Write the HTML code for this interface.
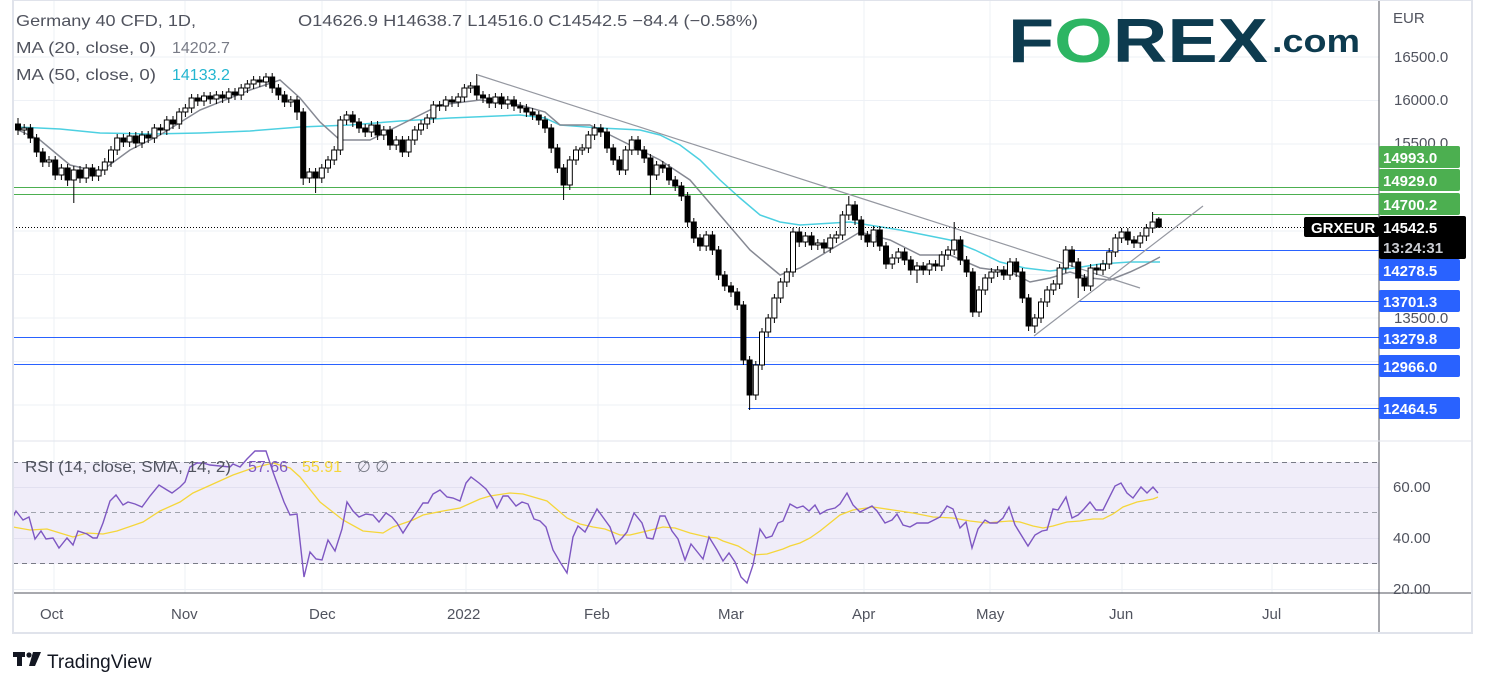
<!DOCTYPE html>
<html><head><meta charset="utf-8">
<style>
body{margin:0;background:#fff;}
svg text{font-family:"Liberation Sans","DejaVu Sans",sans-serif;}
</style></head>
<body>
<svg width="1487" height="687" viewBox="0 0 1487 687" xmlns="http://www.w3.org/2000/svg" shape-rendering="auto">
<rect width="1487" height="687" fill="#fff"/>
<g stroke="#eef1f6" stroke-width="1">
<line x1="54" y1="0" x2="54" y2="593"/><line x1="185" y1="0" x2="185" y2="593"/><line x1="322" y1="0" x2="322" y2="593"/><line x1="466" y1="0" x2="466" y2="593"/><line x1="598" y1="0" x2="598" y2="593"/><line x1="731" y1="0" x2="731" y2="593"/><line x1="864" y1="0" x2="864" y2="593"/><line x1="990" y1="0" x2="990" y2="593"/><line x1="1122" y1="0" x2="1122" y2="593"/><line x1="1272" y1="0" x2="1272" y2="593"/>
<line x1="13" y1="57" x2="1379" y2="57"/><line x1="13" y1="100.5" x2="1379" y2="100.5"/><line x1="13" y1="144" x2="1379" y2="144"/><line x1="13" y1="231" x2="1379" y2="231"/><line x1="13" y1="274.5" x2="1379" y2="274.5"/><line x1="13" y1="318" x2="1379" y2="318"/><line x1="13" y1="361.5" x2="1379" y2="361.5"/><line x1="13" y1="405" x2="1379" y2="405"/>
</g>
<rect x="13" y="462" width="1366" height="102" fill="#f0edf9"/>
<g stroke-width="1">
<line x1="13" y1="487.5" x2="1379" y2="487.5" stroke="#e2e0f0"/><line x1="13" y1="538.5" x2="1379" y2="538.5" stroke="#e2e0f0"/><line x1="13" y1="589.5" x2="1379" y2="589.5" stroke="#eef1f6"/>
<line x1="13" y1="462.5" x2="1379" y2="462.5" stroke="#787b86" stroke-dasharray="5,4"/>
<line x1="13" y1="512.5" x2="1379" y2="512.5" stroke="#a0a3ad" stroke-dasharray="5,4"/>
<line x1="13" y1="563.5" x2="1379" y2="563.5" stroke="#787b86" stroke-dasharray="5,4"/>
</g>
<!-- MAs -->
<polyline fill="none" stroke="#4dd0e1" stroke-width="1.5" points="18,127 60,129 100,133 150,134 200,133 250,131 300,127 350,125 400,121 450,118 520,115 545,118 560,125 600,128 640,130 660,135 680,145 700,160 720,180 740,198 760,215 780,222 800,225 850,222 900,230 950,240 975,250 1000,262 1025,268 1050,271 1075,268 1100,264 1130,262 1160,262"/>
<polyline fill="none" stroke="#868993" stroke-width="1.5" points="18,130 40,140 70,165 100,172 130,150 160,135 200,110 250,90 280,80 300,98 320,122 340,140 370,140 400,125 440,105 480,100 520,105 545,112 560,125 590,125 620,140 660,160 690,180 720,215 750,250 780,275 800,268 830,250 860,232 890,240 920,255 950,255 980,268 1010,272 1030,282 1050,278 1070,272 1090,278 1110,280 1130,272 1145,265 1160,257"/>
<!-- levels -->
<g stroke-width="1">
<line x1="13" y1="187.5" x2="1379" y2="187.5" stroke="#4caf50"/>
<line x1="13" y1="194.5" x2="1379" y2="194.5" stroke="#4caf50"/>
<line x1="1153" y1="214.5" x2="1379" y2="214.5" stroke="#4caf50"/>
<line x1="13" y1="227.5" x2="1304" y2="227.5" stroke="#000" stroke-dasharray="1,2"/>
<line x1="1065" y1="250.5" x2="1379" y2="250.5" stroke="#2962ff"/>
<line x1="1078" y1="301.5" x2="1379" y2="301.5" stroke="#2962ff"/>
<line x1="13" y1="337.5" x2="1379" y2="337.5" stroke="#2962ff"/>
<line x1="13" y1="364.5" x2="1379" y2="364.5" stroke="#2962ff"/>
<line x1="748" y1="408.5" x2="1379" y2="408.5" stroke="#2962ff"/>
<line x1="478" y1="75" x2="1140" y2="288" stroke="#9598a1" stroke-width="1.2"/>
<line x1="1034" y1="336" x2="1203" y2="206" stroke="#9598a1" stroke-width="1.2"/>
</g>
<!-- wicks -->
<path stroke="#000" stroke-width="1" fill="none" d="M18 118V135M24.2 124V135M30.4 124V143M36.6 134V157M42.8 148V167M49 156V167M55.2 156V180M61.4 164V180M67.6 164V186M73.8 166V203M80 166V183M86.2 164V183M92.4 164V181M98.6 166V181M104.8 158V175M111 146V167M117.2 134V155M123.4 134V147M129.6 132V147M135.8 132V148M142 131V148M148.2 131V143M154.4 124V143M160.6 124V135M166.8 116V135M173 116V129M179.2 108V129M185.4 104V117M191.6 94V113M197.8 94V106M204 92V106M210.2 92V104M216.4 91V104M222.6 91V103M228.8 88V103M235 88V100M241.2 84V100M247.4 80V93M253.6 76V89M259.8 76V87M266 73V87M272.2 73V93M278.4 84V100M284.6 91V107M290.8 96V107M297 96V120M303.2 108V185M309.4 168V183M315.6 168V193M321.8 164V183M328 156V173M334.2 146V165M340.4 116V155M346.6 111V125M352.8 111V127M359 118V133M365.2 124V137M371.4 121V137M377.6 121V140M383.8 126V140M390 126V150M396.2 136V150M402.4 136V157M408.6 136V157M414.8 126V145M421 120V135M427.2 114V129M433.4 101V123M439.6 101V111M445.8 96V111M452 96V107M458.2 93V107M464.4 84V102M470.6 82V93M476.8 74V100M483 91V103M489.2 94V108M495.4 93V108M501.6 93V109M507.8 96V109M514 96V111M520.2 102V113M526.4 104V117M532.6 108V120M538.8 111V125M545 116V133M551.2 124V153M557.4 144V173M563.6 164V200M569.8 156V190M576 146V165M582.2 144V155M588.4 131V153M594.6 124V140M600.8 124V137M607 128V153M613.2 144V165M619.4 156V175M625.6 146V175M631.8 136V155M638 136V155M644.2 146V163M650.4 154V195M656.6 161V180M662.8 161V173M669 164V185M675.2 176V191M681.4 182V201M687.6 192V227M693.8 218V243M700 234V251M706.2 231V251M712.4 231V255M718.6 246V280M724.8 271V291M731 282V297M737.2 288V310M743.4 301V365M749.6 356V410M755.8 361V400M762 328V370M768.2 314V337M774.4 294V323M780.6 278V303M786.8 268V287M793 228V277M799.2 228V247M805.4 232V247M811.6 232V250M817.8 239V250M824 239V253M830.2 234V253M836.4 231V243M842.6 211V240M848.8 196V220M855 201V225M861.2 216V240M867.4 231V247M873.6 226V247M879.8 226V251M886 242V269M892.2 254V269M898.4 248V263M904.6 248V265M910.8 256V275M917 262V283M923.2 262V275M929.4 260V275M935.6 260V271M941.8 251V271M948 246V260M954.2 222V255M960.4 236V265M966.6 256V277M972.8 268V317M979 286V317M985.2 274V295M991.4 268V283M997.6 266V277M1003.8 266V280M1010 258V280M1016.2 258V277M1022.4 268V303M1028.6 294V331M1034.8 314V333M1041 298V323M1047.2 286V307M1053.4 280V295M1059.6 264V289M1065.8 246V273M1072 246V267M1078.2 258V298M1084.4 274V291M1090.6 264V291M1096.8 264V275M1103 260V275M1109.2 248V269M1115.4 234V257M1121.6 228V243M1127.8 228V245M1134 236V248M1140.2 232V248M1146.4 224V241M1152.6 212V233M1158.8 217V228"/>
<!-- down bodies -->
<path fill="#000" stroke="#000" stroke-width="1" d="M15.5 124h5V130h-5zM27.9 128h5V138h-5zM34.1 138h5V152h-5zM40.3 152h5V162h-5zM52.7 160h5V175h-5zM65.1 168h5V180h-5zM77.5 170h5V178h-5zM89.9 168h5V176h-5zM120.9 138h5V142h-5zM133.3 136h5V143h-5zM145.7 135h5V138h-5zM158.1 128h5V130h-5zM170.5 120h5V124h-5zM195.3 98h5V101h-5zM207.7 96h5V99h-5zM220.1 95h5V98h-5zM232.5 92h5V95h-5zM257.3 80h5V82h-5zM269.7 77h5V88h-5zM275.9 88h5V95h-5zM282.1 95h5V102h-5zM294.5 100h5V112h-5zM300.7 112h5V178h-5zM313.1 172h5V178h-5zM350.3 115h5V122h-5zM356.5 122h5V128h-5zM362.7 128h5V132h-5zM375.1 125h5V135h-5zM387.5 130h5V145h-5zM399.9 140h5V152h-5zM437.1 105h5V106h-5zM449.5 100h5V102h-5zM474.3 86h5V95h-5zM480.5 95h5V98h-5zM486.7 98h5V103h-5zM499.1 97h5V104h-5zM511.5 100h5V106h-5zM517.7 106h5V108h-5zM523.9 108h5V112h-5zM530.1 112h5V115h-5zM536.3 115h5V120h-5zM542.5 120h5V128h-5zM548.7 128h5V148h-5zM554.9 148h5V168h-5zM561.1 168h5V185h-5zM598.3 128h5V132h-5zM604.5 132h5V148h-5zM610.7 148h5V160h-5zM616.9 160h5V170h-5zM635.5 140h5V150h-5zM641.7 150h5V158h-5zM647.9 158h5V175h-5zM660.3 165h5V168h-5zM666.5 168h5V180h-5zM672.7 180h5V186h-5zM678.9 186h5V196h-5zM685.1 196h5V222h-5zM691.3 222h5V238h-5zM697.5 238h5V246h-5zM709.9 235h5V250h-5zM716.1 250h5V275h-5zM722.3 275h5V286h-5zM728.5 286h5V292h-5zM734.7 292h5V305h-5zM740.9 305h5V360h-5zM747.1 360h5V395h-5zM796.7 232h5V242h-5zM809.1 236h5V245h-5zM821.5 243h5V248h-5zM852.5 205h5V220h-5zM858.7 220h5V235h-5zM864.9 235h5V242h-5zM877.3 230h5V246h-5zM883.5 246h5V264h-5zM902.1 252h5V260h-5zM908.3 260h5V270h-5zM920.7 266h5V270h-5zM933.1 264h5V266h-5zM957.9 240h5V260h-5zM964.1 260h5V272h-5zM970.3 272h5V312h-5zM1001.3 270h5V275h-5zM1013.7 262h5V272h-5zM1019.9 272h5V298h-5zM1026.1 298h5V326h-5zM1069.5 250h5V262h-5zM1075.7 262h5V278h-5zM1081.9 278h5V286h-5zM1094.3 268h5V270h-5zM1125.3 232h5V240h-5zM1131.5 240h5V243h-5zM1156.3 219h5V227h-5z"/>
<!-- up bodies -->
<path fill="#fff" stroke="#000" stroke-width="1" d="M21.7 128h5V130h-5zM46.5 160h5V162h-5zM58.9 168h5V175h-5zM71.3 170h5V180h-5zM83.7 168h5V178h-5zM96.1 170h5V176h-5zM102.3 162h5V170h-5zM108.5 150h5V162h-5zM114.7 138h5V150h-5zM127.1 136h5V142h-5zM139.5 135h5V143h-5zM151.9 128h5V138h-5zM164.3 120h5V130h-5zM176.7 112h5V124h-5zM182.9 108h5V112h-5zM189.1 98h5V108h-5zM201.5 96h5V101h-5zM213.9 95h5V99h-5zM226.3 92h5V98h-5zM238.7 88h5V95h-5zM244.9 84h5V88h-5zM251.1 80h5V84h-5zM263.5 77h5V82h-5zM288.3 100h5V102h-5zM306.9 172h5V178h-5zM319.3 168h5V178h-5zM325.5 160h5V168h-5zM331.7 150h5V160h-5zM337.9 120h5V150h-5zM344.1 115h5V120h-5zM368.9 125h5V132h-5zM381.3 130h5V135h-5zM393.7 140h5V145h-5zM406.1 140h5V152h-5zM412.3 130h5V140h-5zM418.5 124h5V130h-5zM424.7 118h5V124h-5zM430.9 105h5V118h-5zM443.3 100h5V106h-5zM455.7 97h5V102h-5zM461.9 88h5V97h-5zM468.1 86h5V88h-5zM492.9 97h5V103h-5zM505.3 100h5V104h-5zM567.3 160h5V185h-5zM573.5 150h5V160h-5zM579.7 148h5V150h-5zM585.9 135h5V148h-5zM592.1 128h5V135h-5zM623.1 150h5V170h-5zM629.3 140h5V150h-5zM654.1 165h5V175h-5zM703.7 235h5V246h-5zM753.3 365h5V395h-5zM759.5 332h5V365h-5zM765.7 318h5V332h-5zM771.9 298h5V318h-5zM778.1 282h5V298h-5zM784.3 272h5V282h-5zM790.5 232h5V272h-5zM802.9 236h5V242h-5zM815.3 243h5V245h-5zM827.7 238h5V248h-5zM833.9 235h5V238h-5zM840.1 215h5V235h-5zM846.3 205h5V215h-5zM871.1 230h5V242h-5zM889.7 258h5V264h-5zM895.9 252h5V258h-5zM914.5 266h5V270h-5zM926.9 264h5V270h-5zM939.3 255h5V266h-5zM945.5 250h5V255h-5zM951.7 240h5V250h-5zM976.5 290h5V312h-5zM982.7 278h5V290h-5zM988.9 272h5V278h-5zM995.1 270h5V272h-5zM1007.5 262h5V275h-5zM1032.3 318h5V326h-5zM1038.5 302h5V318h-5zM1044.7 290h5V302h-5zM1050.9 284h5V290h-5zM1057.1 268h5V284h-5zM1063.3 250h5V268h-5zM1088.1 268h5V286h-5zM1100.5 264h5V270h-5zM1106.7 252h5V264h-5zM1112.9 238h5V252h-5zM1119.1 232h5V238h-5zM1137.7 236h5V243h-5zM1143.9 228h5V236h-5zM1150.1 222h5V228h-5z"/>
<!-- RSI -->
<polyline fill="none" stroke="#f5d63a" stroke-width="1.3" points="13,527 30,530 47,529 60,533 73,537 87,533 103,534 117,531 143,522 160,511 180,502 193,493 213,484 233,475 253,468 273,463 290,468 300,477 320,502 343,520 363,531 383,533 393,527 413,520 423,515 443,511 460,508 480,499 490,496 510,493 523,494 547,501 567,518 580,524 593,527 605,529 620,535 630,535 647,531 663,527 675,528 690,533 707,537 717,538 723,541 738,546 753,555 767,554 783,549 790,546 800,543 810,538 820,531 840,515 853,510 873,507 893,510 913,513 933,517 953,518 970,521 987,523 997,522 1010,521 1020,522 1033,526 1043,528 1053,526 1067,522 1080,521 1093,519 1103,519 1113,514 1123,507 1137,502 1153,499 1158,497"/>
<polyline fill="none" stroke="#7e57c2" stroke-width="1.4" points="13,517 16,511 23,520 29,517 35,539 41,531 46,539 53,538 59,548 67,538 73,545 78,531 87,534 93,538 97,538 103,523 110,501 116,495 123,505 128,502 135,504 142,507 150,496 159,485 167,490 172,493 180,487 185,482 190,467 197,463 203,463 210,465 220,466 230,467 233,464 240,467 247,459 255,451 266,451 273,472 284,502 290,515 297,514 304,577 310,552 316,559 322,560 328,540 335,551 342,529 347,502 353,511 359,517 366,514 373,515 379,522 386,513 392,517 397,523 403,533 410,522 417,512 423,503 428,503 433,494 440,490 447,497 453,498 460,501 466,483 471,477 479,483 486,489 493,499 497,508 503,496 508,496 516,506 522,502 528,504 534,519 540,521 546,527 553,550 560,562 567,573 573,537 578,526 585,532 597,509 610,527 616,544 622,538 627,532 634,513 642,523 647,538 653,539 660,516 665,516 672,531 678,539 685,560 691,544 703,559 709,537 717,550 723,561 729,553 735,562 741,577 747,583 753,565 760,529 766,538 772,536 778,523 783,521 790,504 797,508 803,506 809,511 815,505 820,514 827,510 835,508 840,504 847,493 853,505 860,512 872,506 877,511 885,523 892,520 897,514 903,525 910,527 917,523 928,523 940,517 947,506 953,509 960,528 966,522 972,548 978,529 985,520 990,523 997,523 1003,518 1009,507 1015,525 1028,546 1035,535 1042,531 1047,530 1053,509 1058,510 1066,497 1072,518 1078,515 1084,509 1090,502 1096,510 1103,510 1115,486 1121,483 1127,493 1133,498 1141,487 1147,493 1153,487 1158,493"/>
<!-- frame -->
<line x1="1379" y1="0" x2="1379" y2="633" stroke="#50535e" stroke-width="1"/>
<line x1="13" y1="593" x2="1472" y2="593" stroke="#50535e" stroke-width="1"/>
<line x1="13" y1="441" x2="1472" y2="441" stroke="#e0e3eb" stroke-width="1"/>
<rect x="13" y="0" width="1459" height="633" fill="none" stroke="#e0e3eb" stroke-width="2"/>
<!-- header -->
<g font-size="16" fill="#50535e">
<text x="16" y="26" textLength="180" lengthAdjust="spacingAndGlyphs">Germany 40 CFD, 1D,</text>
<text x="298" y="26" textLength="460" lengthAdjust="spacingAndGlyphs">O14626.9  H14638.7  L14516.0  C14542.5  −84.4 (−0.58%)</text>
<text x="16" y="53" textLength="140" lengthAdjust="spacingAndGlyphs">MA (20, close, 0)</text><text x="172" y="53" fill="#787b86">14202.7</text>
<text x="16" y="80" textLength="140" lengthAdjust="spacingAndGlyphs">MA (50, close, 0)</text><text x="172" y="80" fill="#22b5d0">14133.2</text>
</g>
<!-- logo -->
<text x="1008" y="62" font-size="62" font-weight="bold" fill="#0d3b4f" textLength="260" lengthAdjust="spacingAndGlyphs">F<tspan fill="#2db563">O</tspan>REX</text>
<text x="1272" y="52" font-size="32" font-weight="bold" fill="#0d3b4f" textLength="88" lengthAdjust="spacingAndGlyphs">.com</text>
<!-- RSI legend -->
<g font-size="16">
<text x="25" y="472" fill="#50535e" textLength="206" lengthAdjust="spacingAndGlyphs">RSI (14, close, SMA, 14, 2)</text>
<text x="248" y="472" fill="#7e57c2">57.66</text>
<text x="302" y="472" fill="#f5d63a">55.91</text>
<text x="357" y="472" fill="#787b86">∅  ∅</text>
</g>
<!-- axis labels -->
<g font-size="15" fill="#50535e">
<text x="1393" y="23">EUR</text>
<text x="1394" y="62">16500.0</text>
<text x="1394" y="105">16000.0</text>
<text x="1394" y="148">15500.0</text>
<text x="1394" y="323">13500.0</text>
<text x="1393" y="492">60.00</text>
<text x="1393" y="543">40.00</text>
<text x="1393" y="594">20.00</text>
</g>
<g font-size="15" fill="#50535e">
<text x="40" y="619">Oct</text><text x="171" y="619">Nov</text><text x="309" y="619">Dec</text>
<text x="447" y="619">2022</text><text x="584" y="619">Feb</text><text x="718" y="619">Mar</text>
<text x="852" y="619">Apr</text><text x="976" y="619">May</text><text x="1109" y="619">Jun</text><text x="1262" y="619">Jul</text>
</g>
<!-- tags -->
<g font-size="15" font-weight="bold" fill="#fff">
<rect x="1379" y="146" width="81" height="22" rx="2" fill="#4caf50"/><text x="1383" y="163">14993.0</text>
<rect x="1379" y="169" width="81" height="22" rx="2" fill="#4caf50"/><text x="1383" y="186">14929.0</text>
<rect x="1379" y="193" width="81" height="22" rx="2" fill="#4caf50"/><text x="1383" y="210">14700.2</text>
<rect x="1304" y="217" width="75" height="20" rx="2" fill="#000"/><text x="1311" y="233">GRXEUR</text>
<rect x="1379" y="216" width="87" height="43" rx="2" fill="#000"/><text x="1383" y="233">14542.5</text>
<text x="1383" y="253" fill="#c9cbd1">13:24:31</text>
<rect x="1379" y="259" width="81" height="22" rx="2" fill="#2962ff"/><text x="1383" y="276">14278.5</text>
<rect x="1379" y="290" width="81" height="22" rx="2" fill="#2962ff"/><text x="1383" y="307">13701.3</text>
<rect x="1379" y="327" width="81" height="22" rx="2" fill="#2962ff"/><text x="1383" y="344">13279.8</text>
<rect x="1379" y="355" width="81" height="22" rx="2" fill="#2962ff"/><text x="1383" y="372">12966.0</text>
<rect x="1379" y="397" width="81" height="22" rx="2" fill="#2962ff"/><text x="1383" y="414">12464.5</text>
</g>
<!-- TradingView logo -->
<g fill="#131722"><rect x="13" y="652" width="12" height="5"/><rect x="17" y="652" width="5" height="14"/><circle cx="29" cy="655" r="2.6"/><polygon points="33,652 41,652 35,666 29,666"/></g>
<text x="47" y="668" font-size="19" fill="#131722">TradingView</text>
</svg>
</body></html>
